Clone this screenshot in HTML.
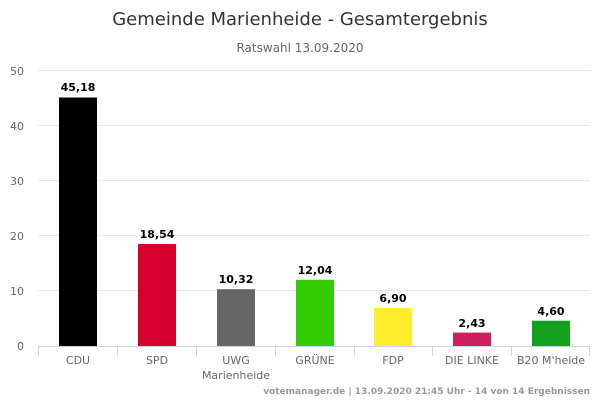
<!DOCTYPE html>
<html><head><meta charset="utf-8"><style>
body{margin:0;background:#fff;}
svg{display:block;font-family:"DejaVu Sans","Liberation Sans",sans-serif;}
</style></head><body>
<svg width="600" height="400" viewBox="0 0 600 400">
<text x="300" y="25" text-anchor="middle" font-size="18" fill="#333">Gemeinde Marienheide - Gesamtergebnis</text>
<text x="300" y="52" text-anchor="middle" font-size="12" fill="#666">Ratswahl 13.09.2020</text>
<g stroke="#e6e6e6" stroke-width="1">
<line x1="38.5" x2="590" y1="70.5" y2="70.5"/>
<line x1="38.5" x2="590" y1="125.5" y2="125.5"/>
<line x1="38.5" x2="590" y1="180.5" y2="180.5"/>
<line x1="38.5" x2="590" y1="235.5" y2="235.5"/>
<line x1="38.5" x2="590" y1="290.5" y2="290.5"/>
</g>
<g font-size="11" fill="#666" text-anchor="end">
<text x="24" y="75">50</text><text x="24" y="130">40</text><text x="24" y="185">30</text>
<text x="24" y="240">20</text><text x="24" y="295">10</text><text x="24" y="350">0</text>
</g>
<g stroke="#ccd6eb" stroke-width="1">
<line x1="38.5" x2="590" y1="346.5" y2="346.5"/>
<line x1="38.5" x2="38.5" y1="346" y2="356"/>
<line x1="117.5" x2="117.5" y1="346" y2="356"/>
<line x1="196.5" x2="196.5" y1="346" y2="356"/>
<line x1="275.5" x2="275.5" y1="346" y2="356"/>
<line x1="354.5" x2="354.5" y1="346" y2="356"/>
<line x1="432.5" x2="432.5" y1="346" y2="356"/>
<line x1="511.5" x2="511.5" y1="346" y2="356"/>
<line x1="589.5" x2="589.5" y1="346" y2="356"/>
</g>
<rect x="59" y="97.5" width="38" height="248.5" fill="#000"/>
<rect x="138" y="244" width="38" height="102" fill="#d7002c"/>
<rect x="217" y="289.2" width="38" height="56.8" fill="#666"/>
<rect x="296" y="279.8" width="38" height="66.2" fill="#33cc00"/>
<rect x="374" y="308" width="38" height="38" fill="#ffed2b"/>
<rect x="453" y="332.6" width="38" height="13.4" fill="#cc1f5c"/>
<rect x="532" y="320.7" width="38" height="25.3" fill="#14a01c"/>
<g font-size="11" font-weight="bold" fill="#000" text-anchor="middle">
<text x="78" y="91">45,18</text><text x="157" y="238">18,54</text><text x="236" y="283">10,32</text>
<text x="315" y="274">12,04</text><text x="393" y="302">6,90</text><text x="472" y="327">2,43</text>
<text x="551" y="315">4,60</text>
</g>
<g font-size="11" fill="#666" text-anchor="middle">
<text x="78" y="364">CDU</text><text x="157" y="364">SPD</text><text x="236" y="364">UWG</text>
<text x="236" y="379">Marienheide</text><text x="315" y="364">GRÜNE</text><text x="393" y="364">FDP</text>
<text x="472" y="364">DIE LINKE</text><text x="551" y="364">B20 M'heide</text>
</g>
<text x="590" y="394" text-anchor="end" font-size="9" font-weight="bold" fill="#999">votemanager.de | 13.09.2020 21:45 Uhr - 14 von 14 Ergebnissen</text>
</svg>
</body></html>
